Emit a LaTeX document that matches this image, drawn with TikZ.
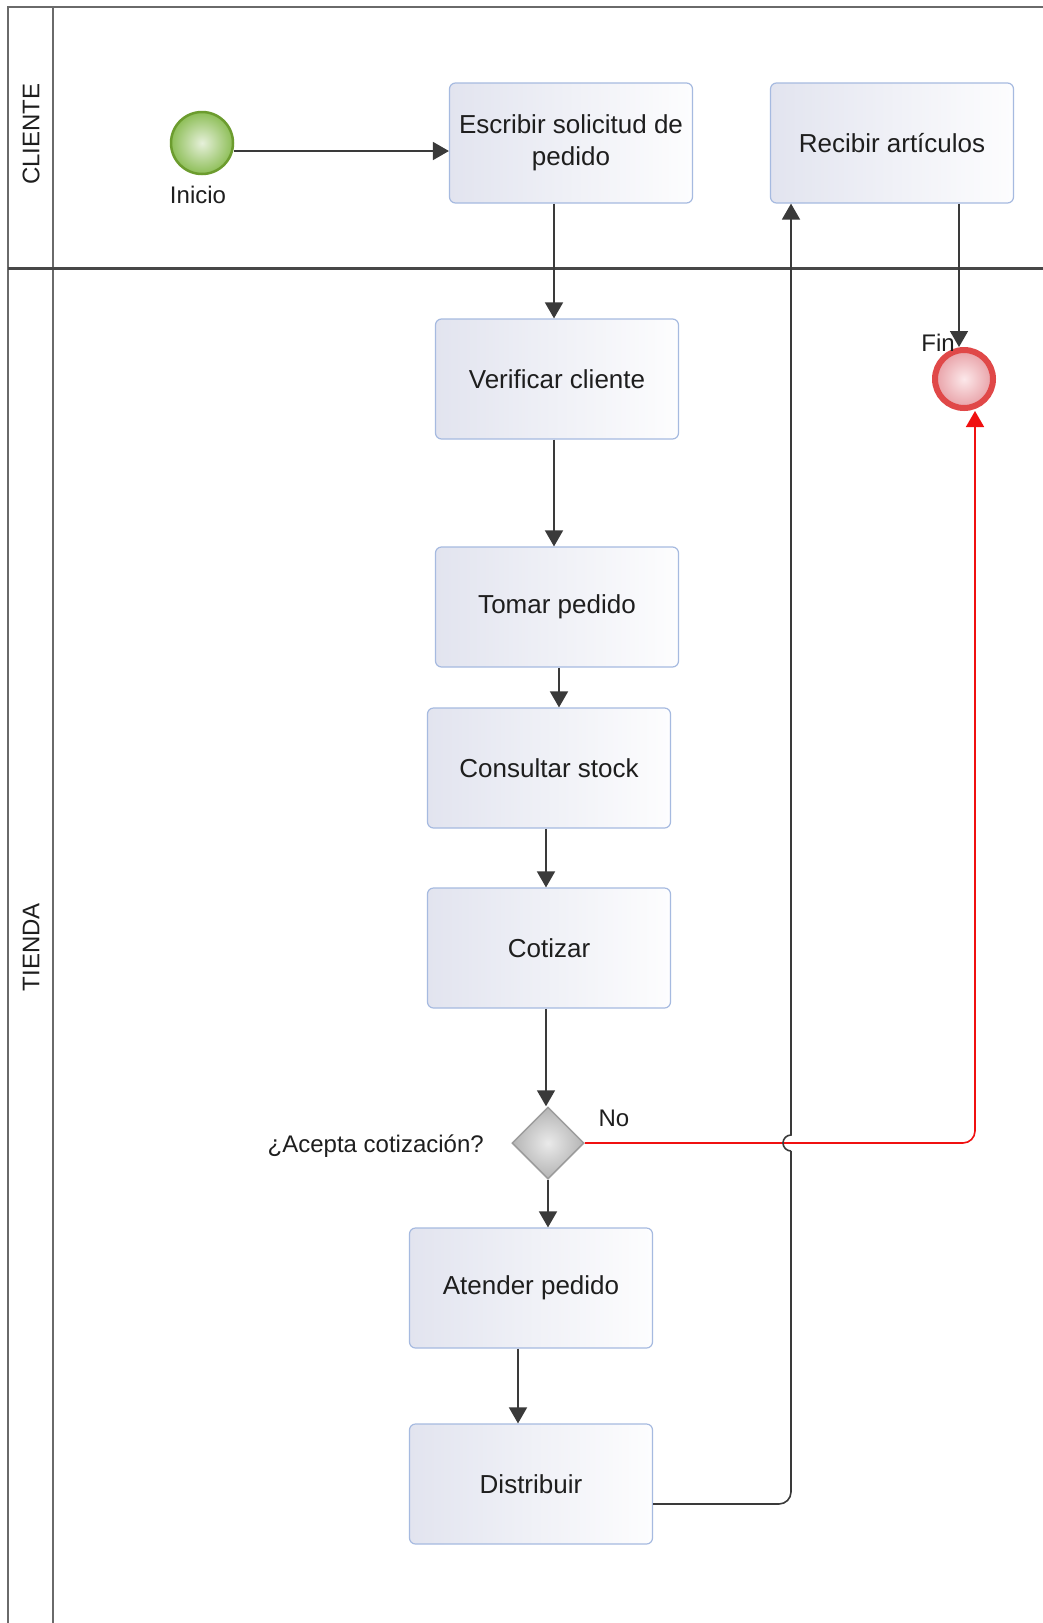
\documentclass[tikz,border=0pt]{standalone}
\usepackage{fontspec}
\setmainfont{Liberation Sans}
\usetikzlibrary{arrows.meta,shapes.geometric,calc}

\definecolor{lanegray}{HTML}{6A6A6A}
\definecolor{laneline}{HTML}{474747}
\definecolor{taskborder}{HTML}{A6BAE0}
\definecolor{taskleft}{HTML}{E2E4EF}
\definecolor{taskright}{HTML}{FDFDFE}
\definecolor{flowcol}{HTML}{3A3A3A}
\definecolor{startborder}{HTML}{6C9C2E}
\definecolor{startin}{HTML}{E6F0DA}
\definecolor{startout}{HTML}{8DBE57}
\definecolor{endring}{HTML}{E04848}
\definecolor{endin}{HTML}{FCE8EA}
\definecolor{endout}{HTML}{E8A0A6}
\definecolor{gateborder}{HTML}{9C9C9C}
\definecolor{gatein}{HTML}{EAEAEA}
\definecolor{gateout}{HTML}{B4B4B4}
\definecolor{nopath}{HTML}{F01010}
\definecolor{txt}{HTML}{1E1E1E}

\tikzset{
  task/.style={rectangle, rounded corners=6pt, draw=taskborder, line width=1.2pt,
    left color=taskleft, right color=taskright, shading angle=90,
    minimum width=243pt, minimum height=120pt, align=center, inner sep=2pt,
    text=txt, font=\fontsize{26}{32}\selectfont},
  startev/.style={circle, draw=startborder, line width=2.5pt,
    inner color=startin, outer color=startout, minimum size=62pt, inner sep=0pt},
  endev/.style={circle, draw=endring, line width=6pt,
    inner color=endin, outer color=endout, minimum size=58pt, inner sep=0pt},
  gateway/.style={diamond, draw=gateborder, line width=1.5pt,
    inner color=gatein, outer color=gateout, minimum width=72pt, minimum height=72pt,
    inner sep=0pt, aspect=1},
  lbl/.style={text=txt, font=\fontsize{24}{29}\selectfont, inner sep=0pt},
  line/.style={draw=flowcol, line width=1.6pt},
  flow/.style={line, -{Triangle[length=16pt,width=18pt]}},
  noflow/.style={draw=nopath, line width=1.6pt,
    -{Triangle[length=16pt,width=18pt]}},
}

\begin{document}
\begin{tikzpicture}[x=1pt,y=-1pt]
\useasboundingbox (0,0) rectangle (1043,1623);
\fill[white] (0,0) rectangle (1043,1623);

% pool and lanes
\draw[lanegray, line width=2pt] (1043,7) -- (8,7) -- (8,1623);
\draw[lanegray, line width=2pt] (53,7) -- (53,1623);
\draw[laneline, line width=3pt] (8,268) -- (1043,268);
\node[lbl, rotate=90] (laneC) at (31,134) {CLIENTE};
\node[lbl, rotate=90] (laneT) at (31,947) {TIENDA};

% events, tasks and gateway
\node[startev] (start) at (202,143) {};
\node[lbl] (startlbl) at (198,195) {Inicio};
\node[task] (esc) at (571,143) {Escribir solicitud de\\pedido};
\node[task] (rec) at (892,143) {Recibir artículos};
\node[task] (ver) at (557,379) {Verificar cliente};
\node[task] (tom) at (557,607) {Tomar pedido};
\node[task] (con) at (549,768) {Consultar stock};
\node[task] (cot) at (549,948) {Cotizar};
\node[gateway] (dia) at (548,1143) {};
\node[lbl, anchor=east] (dialbl) at (484,1146) {¿Acepta cotización?};
\node[lbl] (nolbl) at (614,1118) {No};
\node[task] (ate) at (531,1288) {Atender pedido};
\node[task] (dis) at (531,1484) {Distribuir};
\node[endev] (fin) at (964,379) {};

% sequence flows
\draw[flow] ([yshift=-8pt]start.east) -- ([yshift=-8pt]start.east -| esc.west);
\draw[flow] ([xshift=-17pt]esc.south) -- ([xshift=-17pt]esc.south |- ver.north);
\draw[flow] ([xshift=-3pt]ver.south) -- ([xshift=-3pt]ver.south |- tom.north);
\draw[flow] ([xshift=2pt]tom.south) -- ([xshift=2pt]tom.south |- con.north);
\draw[flow] ([xshift=-3pt]con.south) -- ([xshift=-3pt]con.south |- cot.north);
\draw[flow] ([xshift=-3pt]cot.south) -- ([xshift=-3pt]cot.south |- dia.north);
\draw[flow] (dia.south) -- (dia.south |- ate.north);
\draw[flow] ([xshift=-13pt]ate.south) -- ([xshift=-13pt]ate.south |- dis.north);

% "No" branch to the end event
\draw[noflow, rounded corners=12pt] (dia.east) -| ([xshift=11pt]fin.south);

% return to the client, hopping over the "No" branch
\coordinate (col) at ([xshift=-101pt]rec.south);
\coordinate (hop) at (col |- dia.east);
\draw[line, rounded corners=12pt] ([yshift=-20pt]dis.east) -| ([yshift=-8pt]hop);
\draw[flow] ([yshift=-8pt]hop) arc[start angle=270, end angle=90, radius=8pt] -- (col);

\draw[flow] ([xshift=67pt]rec.south) -- ([xshift=67pt]rec.south |- fin.north);
\node[lbl] (finlbl) at (938,343) {Fin};
\end{tikzpicture}
\end{document}
